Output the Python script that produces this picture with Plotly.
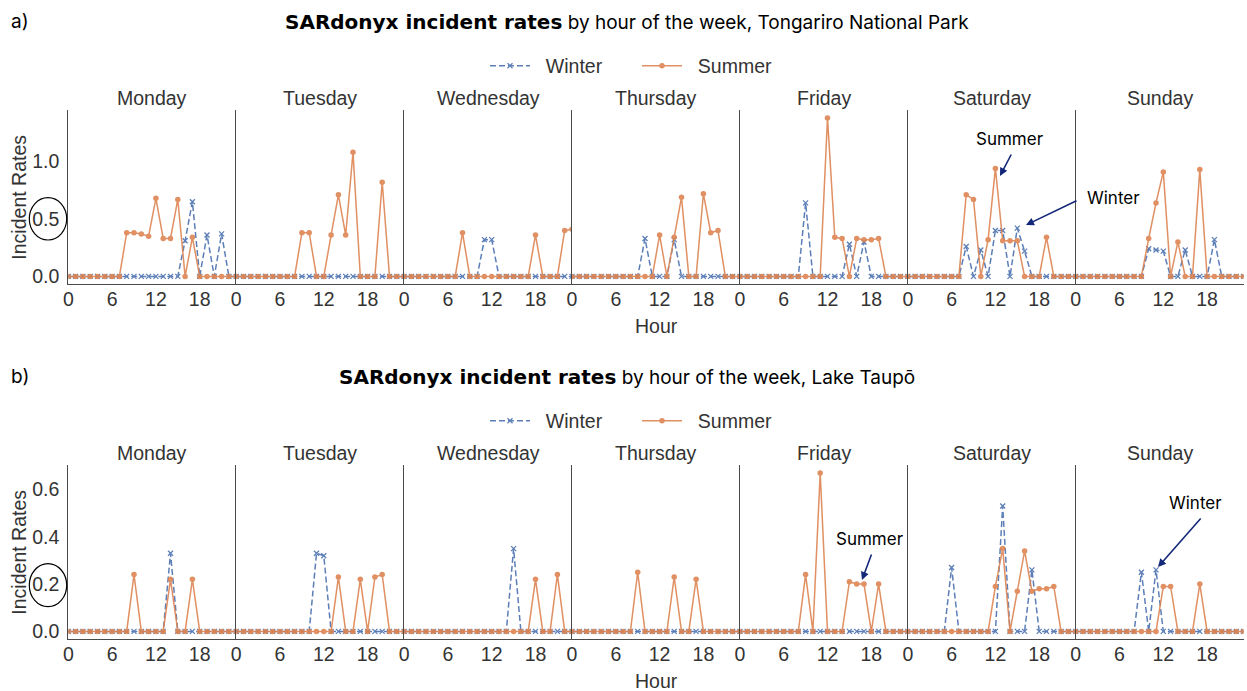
import plotly.graph_objects as go

W, H = 1247, 691

days = ["Monday", "Tuesday", "Wednesday", "Thursday", "Friday", "Saturday", "Sunday"]
hours = list(range(24))
hour_ticks = [0, 6, 12, 18]
a_yticks = [0.0, 0.5, 1.0]
b_yticks = [0.0, 0.2, 0.4, 0.6]

# a) Tongariro National Park  (one row per day, Monday..Sunday, hours 0..23)
tongariro_winter = [
    [0, 0, 0, 0, 0, 0, 0, 0, 0, 0, 0, 0, 0, 0, 0, 0, 0.31, 0.65, 0, 0.36, 0, 0.37, 0, 0],
    [0, 0, 0, 0, 0, 0, 0, 0, 0, 0, 0, 0, 0, 0, 0, 0, 0, 0, 0, 0, 0, 0, 0, 0],
    [0, 0, 0, 0, 0, 0, 0, 0, 0, 0, 0, 0.32, 0.32, 0, 0, 0, 0, 0, 0, 0, 0, 0, 0, 0],
    [0, 0, 0, 0, 0, 0, 0, 0, 0, 0, 0.33, 0, 0, 0, 0.32, 0, 0, 0, 0, 0, 0, 0, 0, 0],
    [0, 0, 0, 0, 0, 0, 0, 0, 0, 0.64, 0, 0, 0, 0, 0, 0.28, 0, 0.30, 0, 0, 0, 0, 0, 0],
    [0, 0, 0, 0, 0, 0, 0, 0, 0.26, 0, 0.23, 0, 0.40, 0.40, 0, 0.42, 0.22, 0, 0, 0, 0, 0, 0, 0],
    [0, 0, 0, 0, 0, 0, 0, 0, 0, 0, 0.24, 0.23, 0.22, 0, 0, 0.23, 0, 0, 0, 0.32, 0, 0, 0, 0],
]
tongariro_summer = [
    [0, 0, 0, 0, 0, 0, 0, 0, 0.38, 0.38, 0.37, 0.35, 0.68, 0.33, 0.33, 0.67, 0, 0.34, 0, 0, 0, 0, 0, 0],
    [0, 0, 0, 0, 0, 0, 0, 0, 0, 0.38, 0.38, 0, 0, 0.36, 0.71, 0.36, 1.08, 0, 0, 0, 0.82, 0, 0, 0],
    [0, 0, 0, 0, 0, 0, 0, 0, 0.38, 0, 0, 0, 0, 0, 0, 0, 0, 0, 0.36, 0, 0, 0, 0.40, 0.41],
    [0, 0, 0, 0, 0, 0, 0, 0, 0, 0, 0, 0, 0.36, 0, 0.34, 0.69, 0, 0, 0.72, 0.38, 0.40, 0, 0, 0],
    [0, 0, 0, 0, 0, 0, 0, 0, 0, 0, 0, 0, 1.38, 0.34, 0.33, 0, 0.33, 0.32, 0.32, 0.33, 0, 0, 0, 0],
    [0, 0, 0, 0, 0, 0, 0, 0, 0.71, 0.67, 0, 0.32, 0.94, 0.31, 0.31, 0.31, 0, 0, 0, 0.34, 0, 0, 0, 0],
    [0, 0, 0, 0, 0, 0, 0, 0, 0, 0, 0.33, 0.64, 0.91, 0, 0.30, 0, 0, 0.93, 0, 0, 0, 0, 0, 0],
]

# b) Lake Taupō
taupo_winter = [
    [0, 0, 0, 0, 0, 0, 0, 0, 0, 0, 0, 0, 0, 0, 0.33, 0, 0, 0, 0, 0, 0, 0, 0, 0],
    [0, 0, 0, 0, 0, 0, 0, 0, 0, 0, 0, 0.33, 0.32, 0, 0, 0, 0, 0, 0, 0, 0, 0, 0, 0],
    [0, 0, 0, 0, 0, 0, 0, 0, 0, 0, 0, 0, 0, 0, 0, 0.35, 0, 0, 0, 0, 0, 0, 0, 0],
    [0, 0, 0, 0, 0, 0, 0, 0, 0, 0, 0, 0, 0, 0, 0, 0, 0, 0, 0, 0, 0, 0, 0, 0],
    [0, 0, 0, 0, 0, 0, 0, 0, 0, 0, 0, 0, 0, 0, 0, 0, 0, 0, 0, 0, 0, 0, 0, 0],
    [0, 0, 0, 0, 0, 0, 0.27, 0, 0, 0, 0, 0, 0, 0.53, 0, 0, 0, 0.26, 0, 0, 0, 0, 0, 0],
    [0, 0, 0, 0, 0, 0, 0, 0, 0, 0.25, 0, 0.26, 0, 0, 0, 0, 0, 0, 0, 0, 0, 0, 0, 0],
]
taupo_summer = [
    [0, 0, 0, 0, 0, 0, 0, 0, 0, 0.24, 0, 0, 0, 0, 0.22, 0, 0, 0.22, 0, 0, 0, 0, 0, 0],
    [0, 0, 0, 0, 0, 0, 0, 0, 0, 0, 0, 0, 0, 0, 0.23, 0, 0, 0.22, 0, 0.23, 0.24, 0, 0, 0],
    [0, 0, 0, 0, 0, 0, 0, 0, 0, 0, 0, 0, 0, 0, 0, 0, 0, 0, 0.22, 0, 0, 0.24, 0, 0],
    [0, 0, 0, 0, 0, 0, 0, 0, 0, 0.25, 0, 0, 0, 0, 0.23, 0, 0, 0.22, 0, 0, 0, 0, 0, 0],
    [0, 0, 0, 0, 0, 0, 0, 0, 0, 0.24, 0, 0.67, 0, 0, 0, 0.21, 0.20, 0.20, 0, 0.20, 0, 0, 0, 0],
    [0, 0, 0, 0, 0, 0, 0, 0, 0, 0, 0, 0, 0.19, 0.35, 0, 0.17, 0.34, 0.17, 0.18, 0.18, 0.19, 0, 0, 0],
    [0, 0, 0, 0, 0, 0, 0, 0, 0, 0, 0, 0, 0.19, 0.19, 0, 0, 0, 0.20, 0, 0, 0, 0, 0, 0],
]

panel_letters = ["a)", "b)"]
panel_places = ["Tongariro National Park", "Lake Taupō"]

for arr in (tongariro_winter, tongariro_summer, taupo_winter, taupo_summer):
    assert len(arr) == 7 and all(len(r) == 24 for r in arr)

WINTER = "#4C72B0"
SUMMER = "#DD8452"
AXIS = "#4a4a4a"
TXT = "#333333"
NAVY = "#14287a"
BASE_FONT = "Liberation Sans, Arial, sans-serif"
TITLE_FONT = "Inter, Roboto, sans-serif"
FS = 19.5

LEFT = 68.3
DAYW = 167.9
TOPS = [110.0, 465.0]
BOTS = [284.3, 639.3]
OFF = [0.0, 355.0]


def px(x):
    return x / W


def py(y):
    return 1 - y / H


panels = [
    (tongariro_winter, tongariro_summer, a_yticks, "legend"),
    (taupo_winter, taupo_summer, b_yticks, "legend2"),
]

fig = go.Figure()
layout = dict(
    width=W, height=H, margin=dict(l=0, r=0, t=0, b=0, autoexpand=False), autosize=False,
    paper_bgcolor="white", plot_bgcolor="white", showlegend=True,
)

annotations = []
for p, (winter, summer, yticks, legname) in enumerate(panels):
    vmax = max(max(r) for r in winter + summer)
    pad = 0.05 * vmax
    for d in range(7):
        i = p * 7 + d + 1
        xa = "x" if i == 1 else f"x{i}"
        ya = "y" if i == 1 else f"y{i}"
        fig.add_trace(go.Scatter(
            x=hours, y=winter[d], xaxis=xa, yaxis=ya, mode="lines+markers",
            name="\u00a0\u00a0Winter", legendgroup=f"w{p}", legend=legname, showlegend=(d == 0),
            line=dict(color=WINTER, width=1.5, dash="6px,3px"),
            marker=dict(symbol="x-thin", size=5, color=WINTER, line=dict(color=WINTER, width=1.3)),
            opacity=0.9,
        ))
        fig.add_trace(go.Scatter(
            x=hours, y=summer[d], xaxis=xa, yaxis=ya, mode="lines+markers",
            name="\u00a0\u00a0Summer", legendgroup=f"s{p}", legend=legname, showlegend=(d == 0),
            line=dict(color=SUMMER, width=1.5),
            marker=dict(symbol="circle", size=5.5, color=SUMMER),
            opacity=0.9,
        ))
        x0 = LEFT + d * DAYW
        layout["xaxis" if i == 1 else f"xaxis{i}"] = dict(
            domain=[px(x0), px(x0 + DAYW)], anchor=ya, range=[0, 23],
            tickvals=hour_ticks, ticks="", showgrid=False, zeroline=False,
            showline=True, linecolor=AXIS, linewidth=1.2, automargin=False,
            tickfont=dict(family=BASE_FONT, size=FS, color=TXT), ticklabelstandoff=-3,
        )
        layout["yaxis" if i == 1 else f"yaxis{i}"] = dict(
            domain=[py(BOTS[p]), py(TOPS[p])], anchor=xa, range=[-pad, vmax + pad],
            tickvals=yticks, tickformat=".1f", ticks="", showgrid=False, zeroline=False,
            showline=True, linecolor=AXIS, linewidth=1.2, showticklabels=(d == 0),
            automargin=False,
            tickfont=dict(family=BASE_FONT, size=FS, color=TXT), ticklabelstandoff=4,
        )
        annotations.append(dict(
            text=days[d], x=px(x0 + DAYW / 2), y=py(98 + OFF[p]), xref="paper", yref="paper",
            showarrow=False, xanchor="center", yanchor="middle",
            font=dict(family=BASE_FONT, size=FS, color=TXT),
        ))
    # panel titles
    annotations.append(dict(
        text=panel_letters[p], x=px(9), y=py(22 + OFF[p]), xref="paper", yref="paper",
        showarrow=False, xanchor="left", yanchor="middle",
        font=dict(family=TITLE_FONT, size=19, color="black"),
    ))
    annotations.append(dict(
        text=("<span style=\"font-family:'DejaVu Sans';font-weight:bold;font-size:20px\">"
              "SARdonyx incident rates</span>"
              f" by hour of the week, {panel_places[p]}"),
        x=px(627), y=py(22 + OFF[p]), xref="paper", yref="paper",
        showarrow=False, xanchor="center", yanchor="middle",
        font=dict(family=TITLE_FONT, size=19, color="black"),
    ))
    annotations.append(dict(
        text="Incident Rates", x=px(19.5), y=py((TOPS[p] + BOTS[p]) / 2), xref="paper", yref="paper",
        showarrow=False, textangle=-90, xanchor="center", yanchor="middle",
        font=dict(family=BASE_FONT, size=FS, color=TXT),
    ))
    annotations.append(dict(
        text="Hour", x=px(656), y=py(326 + OFF[p]), xref="paper", yref="paper",
        showarrow=False, xanchor="center", yanchor="middle",
        font=dict(family=BASE_FONT, size=FS, color=TXT),
    ))
    layout[legname] = dict(
        orientation="h", x=px(637), xanchor="center", y=py(66 + OFF[p]), yanchor="middle",
        font=dict(family=BASE_FONT, size=FS, color=TXT), bgcolor="rgba(0,0,0,0)",
        entrywidth=97, itemwidth=40,
    )

# callout labels with arrows
callouts = [
    ("Summer", 1010, 139, 1012, 153, 1000, 176),
    ("Winter", 1113, 198, 1078, 200, 1026, 225),
    ("Summer", 870, 539, 872, 553, 862, 580),
    ("Winter", 1195, 503, 1202, 517, 1158, 567),
]
for text, tx, ty, ax_, ay_, hx, hy in callouts:
    annotations.append(dict(
        text=text, x=px(tx), y=py(ty), xref="paper", yref="paper", showarrow=False,
        xanchor="center", yanchor="middle", font=dict(family=TITLE_FONT, size=17, color="black"),
    ))
    annotations.append(dict(
        text="", x=px(hx), y=py(hy), xref="paper", yref="paper", showarrow=True,
        ax=ax_ - hx, ay=ay_ - hy, axref="pixel", ayref="pixel",
        arrowhead=2, arrowsize=1, arrowwidth=1.6, arrowcolor=NAVY,
    ))

shapes = [
    dict(type="circle", xref="paper", yref="paper", x0=px(29.3), x1=px(66.7),
         y0=py(240), y1=py(197.7), line=dict(color="black", width=1.2)),
    dict(type="circle", xref="paper", yref="paper", x0=px(29.3), x1=px(66.7),
         y0=py(606.7), y1=py(563.7), line=dict(color="black", width=1.2)),
]

layout["annotations"] = annotations
layout["shapes"] = shapes
fig.update_layout(**layout)
fig.write_html(
    "out.html",
    config={"responsive": False, "displayModeBar": False},
    post_script=("document.body.style.margin='0px';"
                 "document.body.style.padding='0px';"
                 "document.body.style.overflow='hidden';"),
)
